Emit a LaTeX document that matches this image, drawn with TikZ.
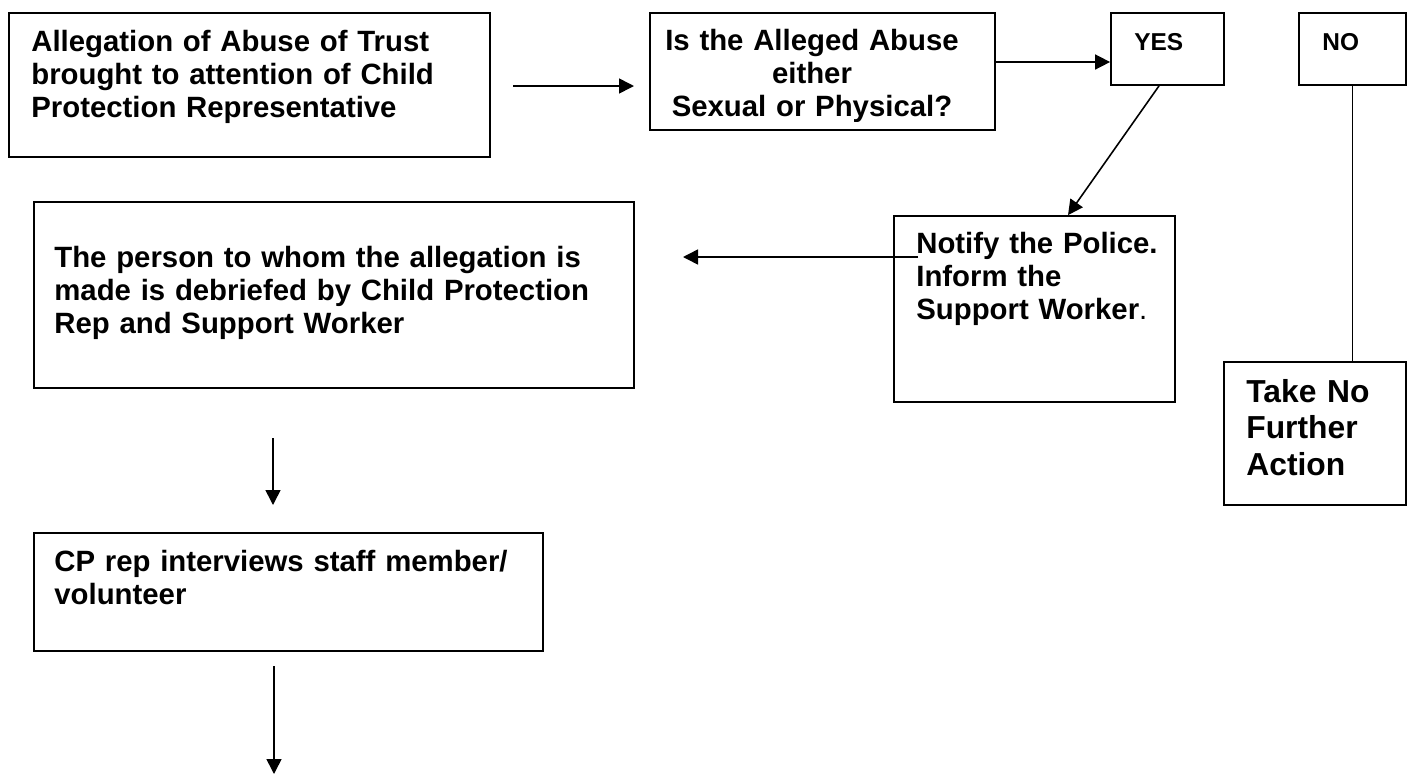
\documentclass[tikz,border=0pt]{standalone}
\usepackage{fontspec}
\setmainfont{Liberation Sans}
\usepackage{tikz}
\usetikzlibrary{arrows.meta,fit}
\tikzset{box/.style={draw, line width=1pt, inner sep=0pt}}
\tikzset{txt/.style={inner sep=0pt, anchor=base west, align=left, font=\bfseries\fontsize{16.7pt}{19pt}\selectfont}}
\tikzset{arr/.style={line width=0.9pt, -{Triangle[length=0.3cm, width=0.3cm]}}}

\begin{document}
\begin{tikzpicture}[x=0.02cm, y=-0.02cm]
    \useasboundingbox (0,0) rectangle (1413,775);
    % Boxes
    \node[box, fit={(9,13) (490,157)}] (alleg) {};
    \node[box, fit={(650,13) (995,130)}] (abuse) {};
    \node[box, fit={(1111,13) (1224,85)}] (yes) {};
    \node[box, fit={(1299,13) (1406,85)}] (no) {};
    \node[box, fit={(894,216) (1175,402)}] (notify) {};
    \node[box, fit={(1224,362) (1406,505)}] (nfa) {};
    \node[box, fit={(34,202) (634,388)}] (debrief) {};
    \node[box, fit={(34,533) (543,651)}] (interview) {};
    % Texts
    \node[txt, text width=9cm] (alleg-t) at (31,51) {Allegation of Abuse of Trust\\brought to attention of Child\\Protection Representative};
    \begin{scope}
        \clip (650,13) rectangle (995,121);
        \node[txt, anchor=base, align=center, text width=6.5cm] (abuse-t) at (812,50) {Is the Alleged Abuse\\either\\Sexual or Physical?};
    \end{scope}
    \node[txt, font=\bfseries\fontsize{13.9pt}{16pt}\selectfont] (yes-t) at (1134,50) {YES};
    \node[txt, font=\bfseries\fontsize{13.9pt}{16pt}\selectfont] (no-t) at (1322,50) {NO};
    \node[txt, text width=5.4cm] (notify-t) at (916,253) {Notify the Police.\\Inform the\\Support Worker{\mdseries.}};
    \node[txt, text width=3.5cm, font=\bfseries\fontsize{18.1pt}{21pt}\selectfont] (nfa-t) at (1246,402) {Take No\\Further\\Action};
    \node[txt, text width=11cm] (debrief-t) at (54,267) {The person to whom the allegation is\\made is debriefed by Child Protection\\Rep and Support Worker};
    \node[txt, text width=9.5cm] (interview-t) at (54,571) {CP rep interviews staff member/\\volunteer};
    % Connectors
    \coordinate (a1) at (513,86);
    \coordinate (a2) at (634,86);
    \draw[arr] (a1) -- (a2);
    \coordinate (b1) at (0,62);
    \draw[arr] (abuse.east |- b1) -- (yes.west |- b1);
    \coordinate (c1) at (1159,0);
    \coordinate (c2) at (1068,0);
    \draw[arr] (yes.south -| c1) -- (notify.north -| c2);
    \draw[line width=0.9pt] (no.south) -- (no.south |- nfa.north);
    \coordinate (d1) at (918,257);
    \coordinate (d2) at (683,257);
    \draw[arr] (d1) -- (d2);
    \coordinate (e1) at (273,438);
    \coordinate (e2) at (273,505);
    \draw[arr] (e1) -- (e2);
    \coordinate (f1) at (274,666);
    \coordinate (f2) at (274,774);
    \draw[arr] (f1) -- (f2);
\end{tikzpicture}
\end{document}
